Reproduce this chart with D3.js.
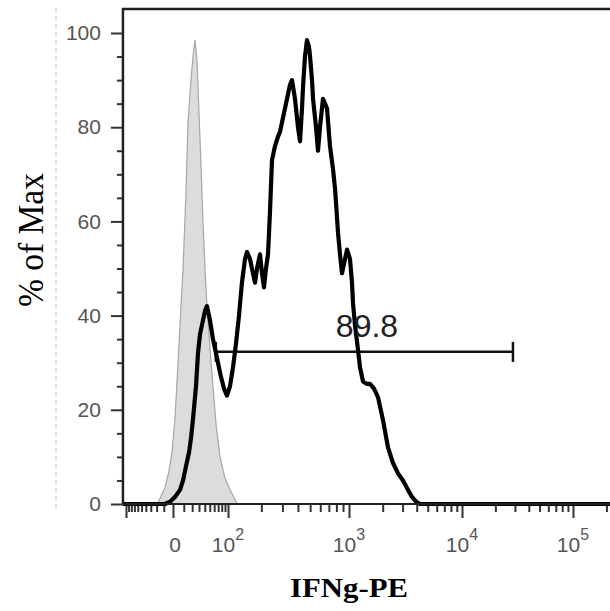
<!DOCTYPE html>
<html>
<head>
<meta charset="utf-8">
<script src="https://cdn.jsdelivr.net/npm/d3@7/dist/d3.min.js"></script>
<style>
body{margin:0;background:#fff}
.tick text{font-family:"Liberation Sans",Arial,sans-serif}
</style>
</head>
<body>
<svg id="hist" width="610" height="611"></svg>
<script>
// control (gray, filled) histogram: IFNg-PE intensity / % of Max
var ctrlX = [-19, -14, -8.5, -4, -1, 1.6, 4.3, 7.1, 9.2, 12.4, 14.7, 18.5, 21.1, 23.9, 26.9, 30, 33.3, 36.7, 40.4, 44.2, 50.4, 57.1, 64.4, 75, 90, 104.5, 122];
var ctrlY = [0, 1.5, 3.5, 7, 11, 18, 30, 42, 50, 66, 81, 90, 95, 98.5, 94, 83, 72, 60, 50, 42, 33, 25, 17, 10, 5.5, 3, 0];

// sample (black line) histogram
var sampleX = [-113, -31.5, -8.5, -2.9, 1.6, 6.2, 9.2, 12.4, 16, 18.5, 21.1, 25.4, 28.4, 31.6, 36.7, 40.4, 44.2, 50.4, 57.1, 66.9, 77.8, 86.8, 96.5,
  104.5, 111.6, 119, 126.9, 135, 143.9, 149.9, 159.4, 169.3, 176.3, 183.5, 194.7, 202.5, 210.6, 219, 227.7, 236.6, 245.9, 260.5, 275.8, 286.4,
  303, 314.6, 332.8, 345.5, 358.5, 379, 400.5, 415.5, 431, 439, 455, 472, 490, 499, 517, 527, 556, 576, 597, 630, 653, 677, 714, 754, 781,
  824, 853, 884, 932, 966, 1021, 1064, 1086, 1132, 1205, 1256, 1336, 1450, 1542, 1674, 1817, 2013, 2229, 2469, 2733, 3026, 3350, 3633, 3942, 4273, 262144];
var sampleY = [0, 0, 0, 0.5, 1.5, 3, 5, 8, 11, 14, 18, 25, 32, 36, 39, 41, 42, 39, 35, 31, 27, 24.5, 23,
  25, 29, 34, 40, 47, 52, 53.5, 52, 49, 47, 50, 53, 49, 46, 50, 53, 62, 73, 76, 78, 79,
  82, 84, 87, 89, 90, 86, 80, 77, 84, 88.5, 95, 98.5, 97, 95, 90, 86, 80, 75, 80, 86, 85, 84, 76, 71, 67,
  57.5, 53, 49, 52, 54, 52, 47, 42.7, 38, 32.7, 29, 26, 25.5, 25.5, 24.5, 22.7, 17.8, 12, 8.7, 6.5, 5, 3, 1.5, 0.5, 0, 0];

// gate
var gateRange = [64, 28800];
var gateLevel = 32.3;
var gateLabel = "89.8";

// axes
var xMajor = [-100, 0, 100, 1000, 10000, 100000];
var xLabelVals = [0, 100, 1000, 10000, 100000];
var xLabelBase = ["0", "10", "10", "10", "10"];
var xLabelExp = ["", "2", "3", "4", "5"];
var xMinor = [-90, -80, -70, -60, -50, -40, -30, -20, -10, 10, 20, 30, 40, 50, 60, 70, 80, 90,
  200, 300, 400, 500, 600, 700, 800, 900, 2000, 3000, 4000, 5000, 6000, 7000, 8000, 9000,
  20000, 30000, 40000, 50000, 60000, 70000, 80000, 90000, 200000];
var yMajor = [0, 20, 40, 60, 80, 100];
var yMinor = [5, 10, 15, 25, 30, 35, 45, 50, 55, 65, 70, 75, 85, 90, 95];

var svg = d3.select("#hist");

// biexponential-like display: symlog stitched at the decade marks
var xScale = d3.scaleSymlog().constant(30)
    .domain([-100, 0, 100, 1000, 10000, 100000])
    .range([126, 173, 228, 349, 462, 573]);
var yScale = d3.scaleLinear().domain([0, 100]).range([504, 33]);

var plotL = xScale(-113), plotR = xScale(262144);
var plotT = yScale(105.1), plotB = yScale(0);

// dashed guide at far left
svg.append("line")
    .attr("x1", 56).attr("x2", 56)
    .attr("y1", plotT - 1).attr("y2", plotB + 4)
    .attr("stroke", "#c4c4c4")
    .attr("stroke-width", 1)
    .attr("stroke-dasharray", "5,3");

// control histogram
var area = d3.area()
    .x(function(d){ return xScale(d[0]); })
    .y0(yScale(0))
    .y1(function(d){ return yScale(d[1]); });
svg.append("path")
    .datum(d3.zip(ctrlX, ctrlY))
    .attr("d", area)
    .attr("fill", "#dcdcdc")
    .attr("stroke", "#a6a6a6")
    .attr("stroke-width", 1.2);

// x axis: minor then major ticks
var xAxisG = svg.append("g").attr("transform", "translate(0," + plotB + ")");
xAxisG.append("g")
    .call(d3.axisBottom(xScale).tickValues(xMinor).tickSize(8).tickFormat(""));
xAxisG.append("g")
    .call(d3.axisBottom(xScale).tickValues(xMajor).tickSize(14).tickFormat(""));
xAxisG.selectAll("path.domain").remove();
xAxisG.selectAll("line").attr("stroke", "#333").attr("stroke-width", 2);

var xLab = svg.append("g")
    .attr("font-family", "'Liberation Sans', Arial, sans-serif")
    .attr("font-size", 21)
    .attr("fill", "#555");
xLabelVals.forEach(function(v, i){
    var t = xLab.append("text")
        .attr("x", xScale(v) + (v === 0 ? 2 : 0))
        .attr("y", 552)
        .attr("text-anchor", "middle");
    t.append("tspan").text(xLabelBase[i]);
    if (xLabelExp[i] !== "") {
        t.append("tspan").text(xLabelExp[i])
            .attr("font-size", 16)
            .attr("dy", -12);
    }
});

// y axis
var yAxisG = svg.append("g").attr("transform", "translate(" + plotL + ",0)");
yAxisG.append("g")
    .call(d3.axisLeft(yScale).tickValues(yMinor).tickSize(6).tickFormat(""));
yAxisG.append("g")
    .call(d3.axisLeft(yScale).tickValues(yMajor).tickSize(12).tickPadding(10));
yAxisG.selectAll("path.domain").remove();
yAxisG.selectAll("line").attr("stroke", "#333").attr("stroke-width", 2);
yAxisG.selectAll("text")
    .attr("font-size", 21)
    .attr("fill", "#555");

// sample histogram
var line = d3.line()
    .x(function(d){ return xScale(d[0]); })
    .y(function(d){ return yScale(d[1]); });

// gate bar
var gy = yScale(gateLevel);
var gate = svg.append("g").attr("stroke", "#111").attr("stroke-width", 2.5);
gate.append("line")
    .attr("x1", xScale(gateRange[0])).attr("x2", xScale(gateRange[1]))
    .attr("y1", gy).attr("y2", gy);
gateRange.forEach(function(v){
    gate.append("line")
        .attr("x1", xScale(v)).attr("x2", xScale(v))
        .attr("y1", gy - 10).attr("y2", gy + 10);
});

svg.append("path")
    .datum(d3.zip(sampleX, sampleY))
    .attr("d", line)
    .attr("fill", "none")
    .attr("stroke", "#000")
    .attr("stroke-width", 4.2)
    .attr("stroke-linejoin", "round");

svg.append("text")
    .text(gateLabel)
    .attr("x", 367)
    .attr("y", gy - 15)
    .attr("text-anchor", "middle")
    .attr("font-family", "'Liberation Sans', Arial, sans-serif")
    .attr("font-size", 32)
    .attr("fill", "#222");

// plot frame (right side runs off the page)
svg.append("path")
    .attr("d", "M" + plotL + "," + plotB + "V" + plotT + "H" + (plotR + 5))
    .attr("fill", "none")
    .attr("stroke", "#222")
    .attr("stroke-width", 2.5);
svg.append("line")
    .attr("x1", plotL).attr("x2", plotR + 5)
    .attr("y1", plotB).attr("y2", plotB)
    .attr("stroke", "#222")
    .attr("stroke-width", 2);

// titles
svg.append("text")
    .text("IFNg-PE")
    .attr("x", 349)
    .attr("y", 597)
    .attr("text-anchor", "middle")
    .attr("font-family", "'Liberation Serif','Times New Roman',serif")
    .attr("font-weight", "bold")
    .attr("font-size", 28)
    .attr("textLength", 118)
    .attr("lengthAdjust", "spacingAndGlyphs")
    .attr("fill", "#000");

svg.append("g")
    .attr("transform", "translate(43,240)")
    .append("text")
    .text("% of Max")
    .attr("transform", "rotate(-90)")
    .attr("text-anchor", "middle")
    .attr("font-family", "'Liberation Serif','Times New Roman',serif")
    .attr("font-size", 35)
    .attr("textLength", 134)
    .attr("lengthAdjust", "spacingAndGlyphs")
    .attr("fill", "#000");

console.log("drawn", sampleX.length, sampleY.length, ctrlX.length, ctrlY.length);
</script>
</body>
</html>
